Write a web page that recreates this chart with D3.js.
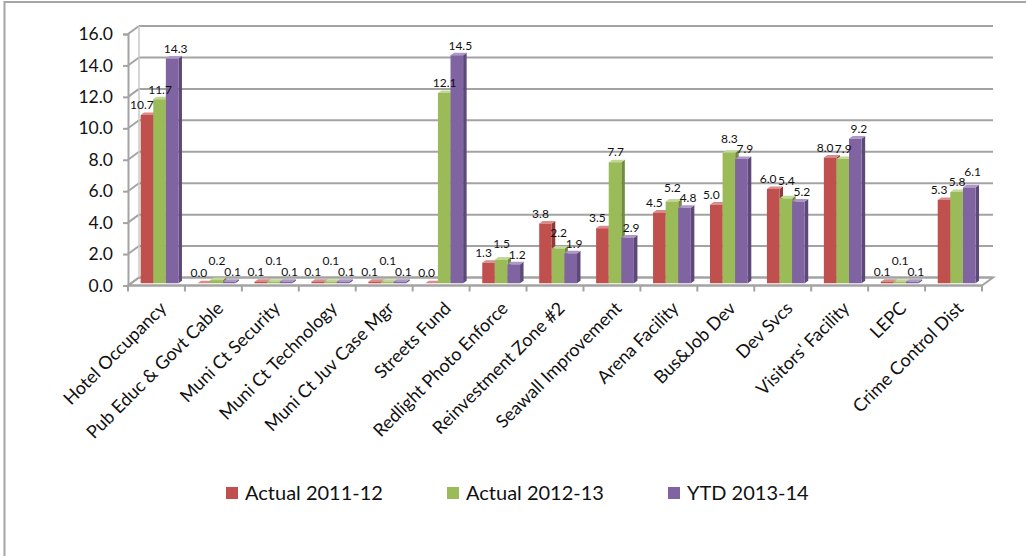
<!DOCTYPE html>
<html>
<head>
<meta charset="utf-8">
<script src="https://cdn.jsdelivr.net/npm/d3@7"></script>
<style>
  html, body { margin: 0; padding: 0; background: #fff; }
  svg { display: block; }
  text { font-family: Lato, "Open Sans", sans-serif; fill: #111; }
</style>
</head>
<body>
<svg id="chart" width="1026" height="556"></svg>
<script>
// Revenue by fund (millions), three fiscal-year series
const categories = [
  "Hotel Occupancy", "Pub Educ & Govt Cable", "Muni Ct Security", "Muni Ct Technology",
  "Muni Ct Juv Case Mgr", "Streets Fund", "Redlight Photo Enforce", "Reinvestment Zone #2",
  "Seawall Improvement", "Arena Facility", "Bus&Job Dev", "Dev Svcs",
  "Visitors' Facility", "LEPC", "Crime Control Dist"
];
const seriesNames = ["Actual 2011-12", "Actual 2012-13", "YTD 2013-14"];
const actual2011 = [10.7, 0.0, 0.1, 0.1, 0.1, 0.0, 1.3, 3.8, 3.5, 4.5, 5.0, 6.0, 8.0, 0.1, 5.3];
const actual2012 = [11.7, 0.2, 0.1, 0.1, 0.1, 12.1, 1.5, 2.2, 7.7, 5.2, 8.3, 5.4, 7.9, 0.1, 5.8];
const ytd2013   = [14.3, 0.1, 0.1, 0.1, 0.1, 14.5, 1.2, 1.9, 2.9, 4.8, 7.9, 5.2, 9.2, 0.1, 6.1];
const yTicks = [0, 2, 4, 6, 8, 10, 12, 14, 16];

const seriesValues = [actual2011, actual2012, ytd2013];
const faceColors = ["#C0504D", "#9BBB59", "#8064A2"];
const sideColors = ["#8E3B39", "#728A41", "#5D4978"];
const topColors  = ["#D98C8A", "#C2D896", "#AD98C8"];

const svg = d3.select("#chart");

// Outer chart frame (runs off the right and bottom of the canvas)
svg.append("rect")
  .attr("x", 4.5).attr("y", 2).attr("width", 1060).attr("height", 600)
  .attr("fill", "none").attr("stroke", "#a6a6a6").attr("stroke-width", 2);

const x = d3.scaleBand().domain(categories).range([128, 982]);
const y = d3.scaleLinear().domain([0, 16]).range([285.5, 34]);
const xs = d3.scaleBand().domain(d3.range(seriesNames.length))
  .range([0, x.bandwidth()]).paddingInner(0).paddingOuter(0.76);

// Oblique 3-D projection: depth z in [0,1] shifts up and to the right
const DX = 11, DY = 8;
const P = (px, v, z) => [px + DX * z, y(v) - DY * z];
const poly = pts => "M" + pts.map(p => p.join(",")).join("L") + "Z";

const gridColor = "#a3a3a3";
const walls = svg.append("g");
const x0 = x.range()[0], x1 = x.range()[1];

// Floor
walls.append("path")
  .attr("d", poly([P(x0, 0, 0), P(x1, 0, 0), P(x1, 0, 1), P(x0, 0, 1)]))
  .attr("fill", "#fff").attr("stroke", gridColor).attr("stroke-width", 2);

// Back-wall gridlines and side-wall diagonals
yTicks.forEach(t => {
  const a = P(x0, t, 1), b = P(x1, t, 1), c = P(x0, t, 0);
  walls.append("line").attr("x1", a[0]).attr("y1", a[1]).attr("x2", b[0]).attr("y2", b[1])
    .attr("stroke", gridColor).attr("stroke-width", 2);
  walls.append("line").attr("x1", c[0]).attr("y1", c[1]).attr("x2", a[0]).attr("y2", a[1])
    .attr("stroke", gridColor).attr("stroke-width", 2);
});
// Back-left vertical edge
{
  const a = P(x0, 0, 1), b = P(x0, 16, 1);
  walls.append("line").attr("x1", a[0]).attr("y1", a[1]).attr("x2", b[0]).attr("y2", b[1])
    .attr("stroke", "#c8c8c8").attr("stroke-width", 1.5);
}

// Value axis on the front plane
const yAxis = d3.axisLeft(y).tickValues(yTicks).tickFormat(d3.format(".1f")).tickSize(5).tickPadding(10);
const yg = svg.append("g").attr("transform", `translate(${x0},0)`).call(yAxis);
yg.select(".domain").attr("stroke", gridColor).attr("stroke-width", 2);
yg.selectAll(".tick line").attr("stroke", gridColor).attr("stroke-width", 2);
yg.selectAll(".tick text").style("font-size", "17.5px").attr("fill", "#111");

// Category axis: tick marks at band edges, rotated labels
const xg = svg.append("g");
const edges = categories.map(c => x(c)).concat([x1]);
xg.selectAll("line.xt").data(edges).enter().append("line")
  .attr("x1", d => d).attr("x2", d => d)
  .attr("y1", y(0)).attr("y2", y(0) + 6)
  .attr("stroke", gridColor).attr("stroke-width", 2);
xg.append("line").attr("x1", x0).attr("x2", x1).attr("y1", y(0)).attr("y2", y(0))
  .attr("stroke", gridColor).attr("stroke-width", 2);
xg.selectAll("text").data(categories).enter().append("text")
  .attr("transform", d => `translate(${x(d) + x.bandwidth() / 2 + 11},${y(0) + 24}) rotate(-45)`)
  .attr("text-anchor", "end")
  .style("font-size", "18px")
  .text(d => d);

// Bars: front face, right side face, top face
const Z0 = 0.28, Z1 = 0.6;
const bars = svg.append("g");
categories.forEach((cat, ci) => {
  seriesValues.forEach((vals, si) => {
    const v = vals[ci];
    const bx0 = x(cat) + xs(si), bx1 = bx0 + xs.bandwidth();
    const g = bars.append("g");
    g.append("path")
      .attr("d", poly([P(bx1, 0, Z0), P(bx1, v, Z0), P(bx1, v, Z1), P(bx1, 0, Z1)]))
      .attr("fill", sideColors[si]);
    g.append("path")
      .attr("d", poly([P(bx0, v, Z0), P(bx0, v, Z1), P(bx1, v, Z1), P(bx1, v, Z0)]))
      .attr("fill", topColors[si]);
    g.append("path")
      .attr("d", poly([P(bx0, 0, Z0), P(bx0, v, Z0), P(bx1, v, Z0), P(bx1, 0, Z0)]))
      .attr("fill", faceColors[si]);
  });
});

// Data labels: placed above each bar; when two collide, the higher one is lifted clear
const labelSpread = [-5, 0.5, 3.5];
const labels = svg.append("g").style("font-size", "12px");
const LH = 10.5;
categories.forEach((cat, ci) => {
  const items = seriesValues.map((vals, si) => {
    const v = vals[ci];
    const bx = x(cat) + xs(si) + xs.bandwidth() / 2;
    const t = labels.append("text").attr("text-anchor", "middle").text(d3.format(".1f")(v));
    const w = t.node().getComputedTextLength();
    const cx = bx + DX * Z0 + labelSpread[si];
    const cy = y(v) - DY * Z0 - 10;
    return { t, cx, cy, w, si };
  });
  const pairs = [[0, 1], [1, 2], [0, 2]];
  for (let iter = 0; iter < 10; iter++) {
    let moved = false;
    pairs.forEach(([i, j]) => {
      const a = items[i], b = items[j];
      const hx = Math.abs(a.cx - b.cx) < (a.w + b.w) / 2;
      const hy = Math.abs(a.cy - b.cy) < LH - 0.01;
      if (!(hx && hy)) return;
      let up, other;
      if (Math.abs(a.cy - b.cy) < 0.5) { up = a.si === 1 ? a : b; }
      else { up = a.cy < b.cy ? a : b; }
      other = up === a ? b : a;
      up.cy = other.cy - LH;
      moved = true;
    });
    if (!moved) break;
  }
  items.forEach(o => o.t.attr("x", o.cx).attr("y", o.cy).attr("dy", "0.35em"));
});

// Legend
const legendLeft = 226, legendStep = 221;
const legend = svg.append("g").attr("transform", `translate(${legendLeft},493)`).style("font-size", "20px");
const items = legend.selectAll("g").data(seriesNames).enter().append("g")
  .attr("transform", (d, i) => `translate(${i * legendStep},0)`);
items.append("rect").attr("width", 12).attr("height", 12).attr("y", -6)
  .attr("fill", (d, i) => faceColors[i]);
items.append("text").attr("x", 19).attr("dy", "0.35em").text(d => d);
</script>
</body>
</html>
